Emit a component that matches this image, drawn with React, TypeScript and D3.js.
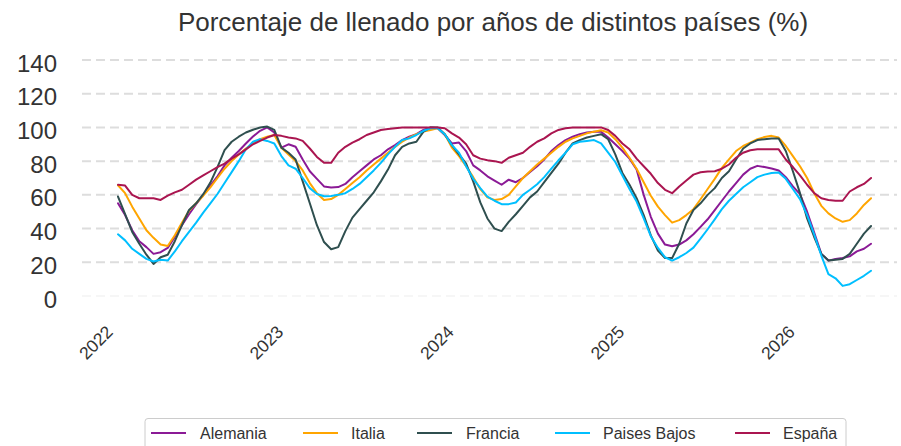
import React from 'react';
import * as d3 from 'd3';

const W = 901;
const H = 446;

const title = 'Porcentaje de llenado por años de distintos países (%)';
const yearLabels = ['2022', '2023', '2024', '2025', '2026'];
const yearTicks = [0, 12, 24, 36, 48]; // months since Jan 2022
const yTicks = [0, 20, 40, 60, 80, 100, 120, 140];
// semi-monthly observations, months since Jan 2022
const months = d3.range(107).map((i) => i / 2);

const alemania = [
  55, 48, 39, 32.5, 29, 25, 26, 28.5, 35, 42,
  48.5, 54.5, 60, 65.5, 71, 77.5, 82, 86, 90.5, 94.6,
  98, 100, 97, 88, 90, 88.5, 81, 74, 69.5, 65,
  64.4, 64.6, 66.5, 70.5, 74, 77.5, 81, 83.5, 87, 89.5,
  92.5, 94.5, 96, 98.5, 100, 99.5, 95.5, 90.5, 91, 86,
  77.5, 74.5, 71, 68.5, 66, 69, 67.5, 70, 73.5, 77,
  81, 86, 89.5, 92.5, 94.5, 96, 97, 97.4, 97.4, 94,
  90, 86, 81.5, 75, 60, 47, 37, 30.5, 29.5, 30.5,
  33, 36.6, 41, 45.5, 51, 56.5, 62, 67, 72, 75.5,
  77.2, 76.5, 75.6, 74.5, 70.5, 65, 60.4, 50, 37.6, 25,
  21, 22, 22.5, 23.5, 26.5, 28, 31,
];

const italia = [
  65.7, 61, 53, 46, 39, 34.5, 30.5, 29.7, 36, 43.5,
  50.5, 55, 59.5, 64.4, 70, 75.5, 80, 84, 87.5, 90.5,
  93, 94.5, 95.5, 88, 84, 80, 74.5, 67, 61, 57,
  57.5, 60, 63.5, 67, 70.5, 74.5, 78, 81.5, 85, 88.5,
  91.5, 94, 96, 97.5, 98.5, 99.5, 96, 88, 83, 77,
  70.5, 63.4, 58.5, 57, 57.5, 60, 65, 70, 74, 78,
  81.5, 85, 88.5, 91.5, 93.5, 95, 96.5, 97.5, 98.3, 97,
  93, 88, 82, 75.5, 67.5, 59.5, 53, 48, 43.5, 45,
  48, 51.5, 57.4, 63.5, 69.5, 76, 81, 86, 89, 91,
  93, 94.3, 95, 94, 89, 83, 77, 70, 61, 53.5,
  49, 46, 44, 45, 49, 54, 58,
];

const francia = [
  59, 48.5, 38, 31, 24.5, 19, 23, 24.5, 32.5, 42,
  51, 55, 60.4, 67.3, 76.5, 86.5, 91.5, 94.5, 97, 98.6,
  100, 100.5, 98.5, 88, 85, 81, 68, 55, 42, 32,
  27.7, 29, 38.5, 46.5, 51.5, 56.5, 61.5, 68, 75, 83.5,
  88.5, 90.5, 91.5, 97.5, 100, 100, 96, 89.5, 84, 78.5,
  68, 55.5, 46, 40, 38.5, 44, 48.5, 53.5, 58.5, 62,
  67.5, 73, 78.5, 85, 90.5, 92.5, 94, 95, 96, 93,
  84, 73, 66, 58, 48, 36, 27, 22.5, 22.5, 31,
  43, 51, 55, 60, 64, 70, 74, 81, 87.5, 90.5,
  92.5, 93, 93.5, 93.5, 86, 74, 61, 46, 35, 25,
  21, 21.5, 22, 25, 31, 37, 41.5,
];

const paisesBajos = [
  36.6, 33, 28, 25, 22, 20.5, 21.5, 21, 26.5, 32.5,
  38, 43.5, 49.5, 55, 60.5, 67, 73.5, 80, 87, 91.5,
  93, 92, 90.5, 83, 77.5, 75.5, 70, 64, 60.5, 59.2,
  59.3, 60, 61, 63.5, 66.5, 70.5, 74.5, 79, 84, 88.5,
  92.5, 93.5, 95.5, 98, 99.5, 99.5, 96, 89.5, 85, 77,
  69.5, 64, 59, 56.5, 54.5, 54.5, 55.5, 60, 63, 66.3,
  70.5, 75.5, 80.5, 85, 90, 91.5, 92, 92.5, 90.5, 85,
  79.5, 71.5, 63.5, 56, 46, 35.5, 28.5, 23, 21, 23,
  25.5, 28.7, 34, 39.6, 45.5, 51.5, 56.5, 60.5, 64.5, 67.5,
  70.5, 72, 73, 73.3, 69.5, 63.5, 57.5, 48, 36.5, 24,
  13, 10.5, 6, 7, 9.5, 12, 15,
];

const espana = [
  66, 65.5, 60, 58, 58, 58, 57, 59.5, 61.5, 63,
  66, 69, 71.5, 74, 76.5, 78.5, 81.5, 84, 87, 90,
  92, 94, 95.5, 95, 94, 93.5, 92, 87.5, 82.5, 79,
  79, 85, 88.5, 91, 93, 95.5, 97, 98.5, 99, 99.5,
  100, 100, 100, 100, 100, 100, 99.5, 96.5, 94, 90,
  83.5, 81.5, 80.5, 80, 79, 82, 83.5, 85, 88.5, 91.5,
  93.5, 96.5, 98.5, 99.5, 100, 100, 100, 100, 100, 98.5,
  95, 90.5, 87, 81.5, 77, 72.5, 67, 63, 61, 65,
  68.5, 72, 73.4, 73.8, 74, 75.5, 78, 82, 85, 86.5,
  87, 87, 87, 87, 81, 76.5, 71.5, 66, 61, 58,
  57, 56.5, 56.5, 62, 64.5, 66.5, 70,
];

const seriesNames = ['Alemania', 'Italia', 'Francia', 'Paises Bajos', 'España'];
const seriesValues = [alemania, italia, francia, paisesBajos, espana];
const seriesColors = ['#8B1A96', '#FFA500', '#2F4F4F', '#00BFFF', '#AA1550'];

const legendLineX = [151, 303, 417, 555, 735];
const legendTextX = [200, 351, 466, 603, 783];

export default function App() {
  const x = d3.scaleLinear().domain([0, 48]).range([118, 800]);
  const y = d3.scaleLinear().domain([0, 140]).range([296, 60]);
  const line = d3
    .line<number>()
    .x((_, i) => x(months[i]))
    .y((d) => y(d));

  return (
    <div style={{ position: 'absolute', left: 0, top: 0 }}>
      <svg
        width={W}
        height={H}
        style={{ display: 'block', fontFamily: '"Liberation Sans", Arial, sans-serif' }}
      >
        <rect width={W} height={H} fill="#ffffff" />
        <text x={493} y={31} textAnchor="middle" fontSize={26} fill="#333333">
          {title}
        </text>
        {yTicks.map((t) => (
          <g key={t}>
            <line
              x1={82}
              x2={897}
              y1={y(t)}
              y2={y(t)}
              stroke={t === 0 ? '#eeeeee' : '#dddddd'}
              strokeWidth={t === 0 ? 1.2 : 2}
              strokeDasharray="9 5"
            />
            <text x={57} y={y(t) + 11.5} textAnchor="end" fontSize={24} fill="#333333">
              {t}
            </text>
          </g>
        ))}
        {seriesValues.map((vals, k) => (
          <path
            key={seriesNames[k]}
            d={line(vals) || ''}
            fill="none"
            stroke={seriesColors[k]}
            strokeWidth={2}
            strokeLinejoin="round"
            strokeLinecap="round"
          />
        ))}
        {yearTicks.map((t, i) => (
          <text
            key={t}
            transform={`translate(${x(t) - 4},333) rotate(-45)`}
            textAnchor="end"
            fontSize={17.5}
            fill="#333333"
          >
            {yearLabels[i]}
          </text>
        ))}
        <rect x={145} y={418.5} width={701} height={36} rx={3} fill="#ffffff" stroke="#cccccc" />
        {seriesNames.map((n, k) => (
          <g key={n}>
            <line
              x1={legendLineX[k]}
              x2={legendLineX[k] + 35}
              y1={433}
              y2={433}
              stroke={seriesColors[k]}
              strokeWidth={2}
            />
            <text x={legendTextX[k]} y={439} fontSize={16} fill="#333333">
              {n}
            </text>
          </g>
        ))}
      </svg>
    </div>
  );
}
